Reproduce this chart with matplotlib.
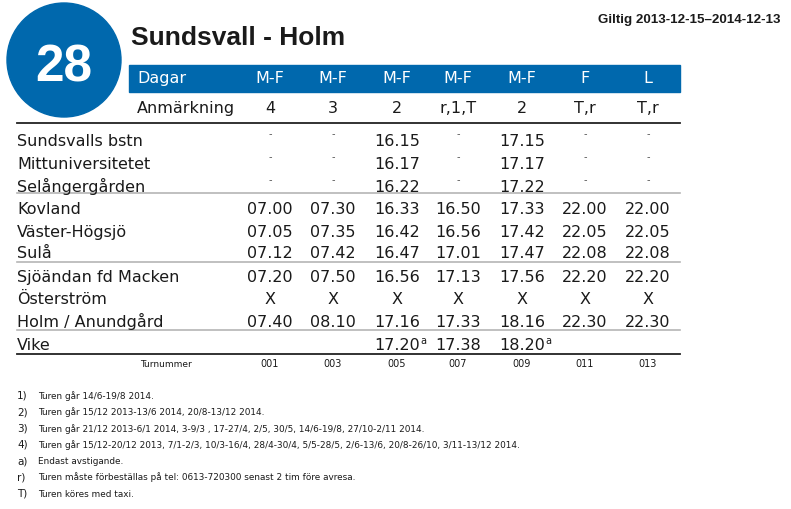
import matplotlib.pyplot as plt
from matplotlib.patches import Circle, Rectangle

# timetable data
line_no = "28"
title = "Sundsvall - Holm"
valid = "Giltig 2013-12-15\u20132014-12-13"
days = ["M-F", "M-F", "M-F", "M-F", "M-F", "F", "L"]
notes = ["4", "3", "2", "r,1,T", "2", "T,r", "T,r"]
stops = ["Sundsvalls bstn", "Mittuniversitetet", "Selångergården", "Kovland",
         "Väster-Högsjö", "Sulå", "Sjöändan fd Macken", "Österström",
         "Holm / Anundgård", "Vike"]
times = [
    ["-", "-", "16.15", "-", "17.15", "-", "-"],
    ["-", "-", "16.17", "-", "17.17", "-", "-"],
    ["-", "-", "16.22", "-", "17.22", "-", "-"],
    ["07.00", "07.30", "16.33", "16.50", "17.33", "22.00", "22.00"],
    ["07.05", "07.35", "16.42", "16.56", "17.42", "22.05", "22.05"],
    ["07.12", "07.42", "16.47", "17.01", "17.47", "22.08", "22.08"],
    ["07.20", "07.50", "16.56", "17.13", "17.56", "22.20", "22.20"],
    ["X", "X", "X", "X", "X", "X", "X"],
    ["07.40", "08.10", "17.16", "17.33", "18.16", "22.30", "22.30"],
    ["", "", "17.20a", "17.38", "18.20a", "", ""],
]
tours = ["001", "003", "005", "007", "009", "011", "013"]
footnotes = [
    ("1)", "Turen går 14/6-19/8 2014."),
    ("2)", "Turen går 15/12 2013-13/6 2014, 20/8-13/12 2014."),
    ("3)", "Turen går 21/12 2013-6/1 2014, 3-9/3 , 17-27/4, 2/5, 30/5, 14/6-19/8, 27/10-2/11 2014."),
    ("4)", "Turen går 15/12-20/12 2013, 7/1-2/3, 10/3-16/4, 28/4-30/4, 5/5-28/5, 2/6-13/6, 20/8-26/10, 3/11-13/12 2014."),
    ("a)", "Endast avstigande."),
    ("r)", "Turen måste förbeställas på tel: 0613-720300 senast 2 tim före avresa."),
    ("T)", "Turen köres med taxi."),
]

blue = "#0068ad"
ink = "#1a1a1a"
body = ["DejaVu Sans"]
arial = ["Liberation Sans", "DejaVu Sans"]

fig = plt.figure(figsize=(7.91, 5.10), dpi=100)
ax = fig.add_axes([0, 0, 1, 1])
ax.set_xlim(0, 791)
ax.set_ylim(510, 0)
ax.axis("off")

# route badge + title
ax.add_patch(Circle((64, 61), 57, color=blue))
ax.text(64, 82, line_no, color="white", fontsize=37, fontweight="bold",
        family=arial, ha="center", va="baseline")
ax.text(131, 45, title, color=ink, fontsize=19, fontweight="bold",
        family=arial, ha="left", va="baseline")
ax.text(780, 23, valid, color=ink, fontsize=9.6, fontweight="bold",
        family=arial, ha="right", va="baseline")

# header band
ax.add_patch(Rectangle((129, 66), 551, 27, color=blue))
col_x = [270, 333, 397, 458, 522, 585, 648]
ax.text(137, 83, "Dagar", color="white", fontsize=11.5, family=body, va="baseline")
for x, d in zip(col_x, days):
    ax.text(x, 83, d, color="white", fontsize=11.5, family=body, ha="center", va="baseline")
ax.text(137, 113, "Anmärkning", color=ink, fontsize=11.5, family=body, va="baseline")
for x, n in zip(col_x, notes):
    ax.text(x, 113, n, color=ink, fontsize=11.5, family=body, ha="center", va="baseline")

# table rules
ax.plot([17, 680], [124, 124], color="#222222", lw=1.3)
for y in [194, 263, 331]:
    ax.plot([17, 680], [y, y], color="#b5b5b5", lw=1.2)
ax.plot([17, 680], [355, 355], color="#222222", lw=1.3)

row_y = [146, 169, 192, 214, 237, 258, 282, 304, 327, 350]
for y, stop, row in zip(row_y, stops, times):
    ax.text(17, y, stop, color=ink, fontsize=11.5, family=body, va="baseline")
    for x, t in zip(col_x, row):
        if t.endswith("a"):
            ax.text(x, y, t[:-1], color=ink, fontsize=11.5, family=body,
                    ha="center", va="baseline")
            ax.text(x + 23, y - 6, "a", color=ink, fontsize=7, family=body,
                    ha="left", va="baseline")
        elif t == "-":
            ax.text(x, y - 9, "-", color="#555555", fontsize=7, family=body,
                    ha="center", va="baseline")
        else:
            ax.text(x, y, t, color=ink, fontsize=11.5, family=body,
                    ha="center", va="baseline")

ax.text(192, 367, "Turnummer", color=ink, fontsize=6.5, family=body,
        ha="right", va="baseline")
for x, t in zip(col_x, tours):
    ax.text(x, 367, t, color=ink, fontsize=7, family=body, ha="center", va="baseline")

# footnotes
for i, (k, txt) in enumerate(footnotes):
    y = 399 + i * 16.3
    ax.text(17, y, k, color=ink, fontsize=7.5, family=body, va="baseline")
    ax.text(38, y, txt, color=ink, fontsize=6.4, family=body, va="baseline")

fig.savefig("out.png", dpi=100)
